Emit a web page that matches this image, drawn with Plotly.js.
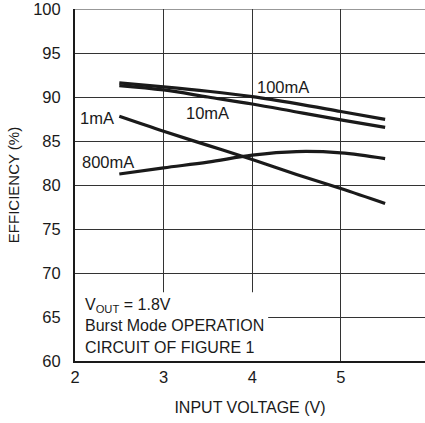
<!DOCTYPE html>
<html>
<head>
<meta charset="utf-8">
<script src="https://cdn.plot.ly/plotly-3.0.1.min.js"></script>
<style>html,body{margin:0;padding:0;background:#fff;}#chart{width:425px;height:423px;}</style>
</head>
<body>
<div id="chart"></div>
<script>
const inputVoltage = [2.5, 3, 3.5, 4, 4.5, 5, 5.5];
const eff100mA = [91.6, 91.15, 90.65, 90.05, 89.25, 88.35, 87.45];
const eff10mA  = [91.3, 90.8, 90.0, 89.2, 88.3, 87.4, 86.55];
const eff1mA   = [87.8, 86.1, 84.5, 82.9, 81.2, 79.6, 77.9];
const eff800mA = [81.25, 81.95, 82.6, 83.4, 83.8, 83.65, 83.0];
const seriesNames = ["100mA", "10mA", "1mA", "800mA"];
const xTicks = [2, 3, 4, 5];
const yTicks = [60, 65, 70, 75, 80, 85, 90, 95, 100];
const noteLines = ["V<sub>OUT</sub> = 1.8V", "Burst Mode OPERATION", "CIRCUIT OF FIGURE 1"];

const FONT = "Liberation Sans, Arial, Helvetica, sans-serif";
const FS = 16.5;
const ink = "#1a1a1a";
const allSeries = [eff100mA, eff10mA, eff1mA, eff800mA];
const traces = allSeries.map((ys, i) => ({
  x: inputVoltage, y: ys, name: seriesNames[i], type: "scatter", mode: "lines",
  line: {color: ink, width: 3.2, shape: "spline", smoothing: 1},
  hoverinfo: "skip"
}));

const labelPos = [[4.35, 91.15], [3.5, 88.2], [2.25, 87.6], [2.37, 82.6]];
const annotations = seriesNames.map((n, i) => ({
  x: labelPos[i][0], y: labelPos[i][1], xref: "x", yref: "y", text: n, showarrow: false,
  xanchor: "center", yanchor: "middle", font: {family: FONT, size: FS, color: ink}
}));
const noteY = [66.3, 64.0, 61.55];
noteLines.forEach((t, i) => annotations.push({
  x: 2, y: noteY[i], xref: "x", yref: "y", text: t, showarrow: false, xshift: 8,
  xanchor: "left", yanchor: "middle", align: "left", font: {family: FONT, size: 16, color: ink}
}));

const layout = {
  width: 425, height: 423,
  margin: {l: 75, r: 0, t: 9, b: 62},
  paper_bgcolor: "#fff", plot_bgcolor: "#fff",
  showlegend: false,
  font: {family: FONT, size: FS, color: ink},
  xaxis: {
    range: [2, 5.95], tickvals: xTicks, ticktext: xTicks.map(String),
    showgrid: true, gridcolor: "#333", gridwidth: 1,
    showline: true, linecolor: ink, linewidth: 2,
    zeroline: false, ticks: "", fixedrange: true, ticklabeloverflow: "allow",
    tickfont: {family: FONT, size: FS, color: ink},
    title: {text: "INPUT VOLTAGE (V)", font: {family: FONT, size: 16, color: ink}, standoff: 17}
  },
  yaxis: {
    range: [60, 100], tickvals: yTicks, ticktext: yTicks.map(String),
    showgrid: true, gridcolor: "#333", gridwidth: 1,
    showline: true, linecolor: ink, linewidth: 2,
    zeroline: false, ticks: "", ticklabelstandoff: 9, fixedrange: true, ticklabeloverflow: "allow",
    tickfont: {family: FONT, size: FS, color: ink},
    title: {text: "EFFICIENCY (%)", font: {family: FONT, size: 15, color: ink}, standoff: 10}
  },
  shapes: [
    {type: "line", xref: "paper", yref: "y", x0: 0, x1: 1, y0: 100, y1: 100, line: {color: "#333", width: 1}},
    {type: "rect", xref: "x", yref: "y", x0: 2, x1: 4.18, y0: 60, y1: 67.8, layer: "between",
     fillcolor: "#fff", line: {width: 0}}
  ],
  annotations: annotations
};
Plotly.newPlot("chart", traces, layout, {staticPlot: true, displayModeBar: false});
</script>
</body>
</html>
